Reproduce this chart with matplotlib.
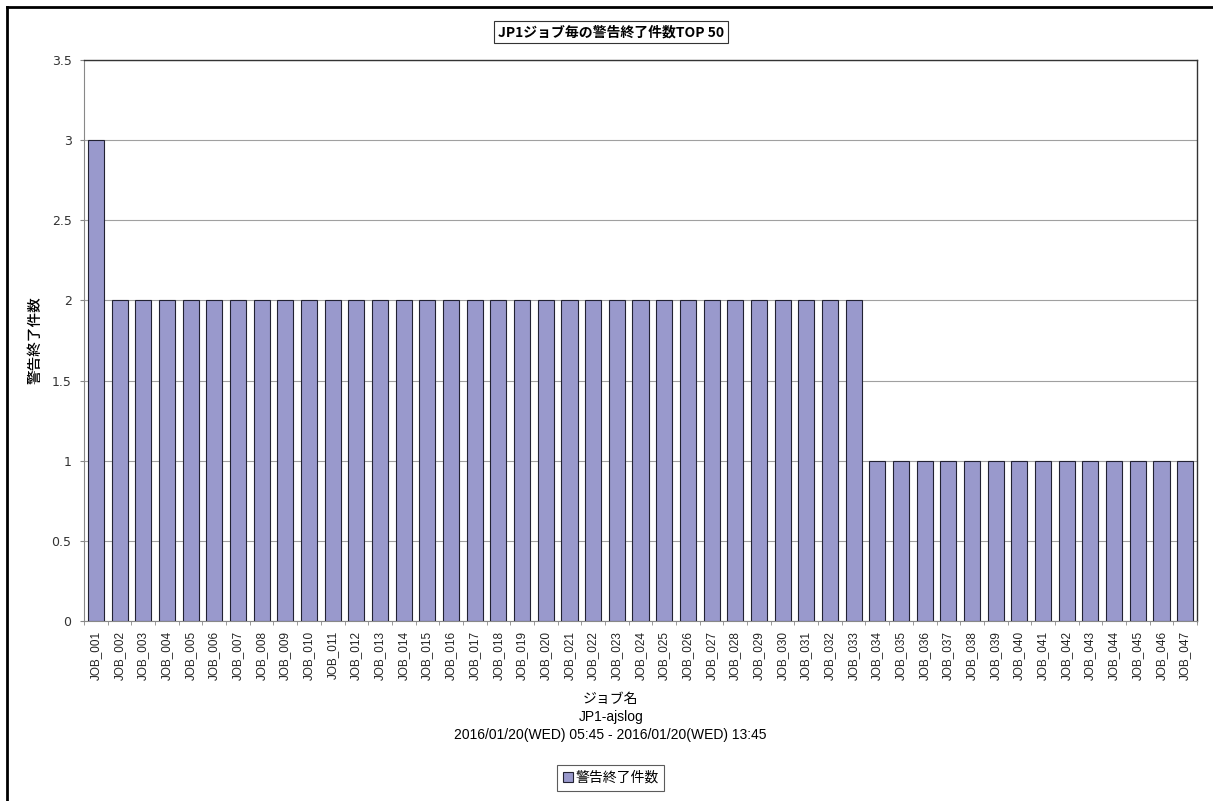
import matplotlib
matplotlib.use("Agg")
import matplotlib.pyplot as plt
import numpy as np
from matplotlib.lines import Line2D
from matplotlib.patches import Patch

plt.rcParams["font.family"] = ["DejaVu Sans", "Noto Sans CJK JP"]

jobs = ["JOB_%03d" % i for i in range(1, 48)]
counts = [3] + [2] * 32 + [1] * 14

title = "JP1ジョブ毎の警告終了件数TOP 50"
ylabel = "警告終了件数"
xlabel_lines = ["ジョブ名", "JP1-ajslog", "2016/01/20(WED) 05:45 - 2016/01/20(WED) 13:45"]
legend_label = "警告終了件数"
yticks = [0, 0.5, 1, 1.5, 2, 2.5, 3, 3.5]

bar_color = "#9999CC"
jp = ["Noto Sans CJK JP", "DejaVu Sans"]
lat = ["Liberation Sans", "Noto Sans CJK JP"]

fig = plt.figure(figsize=(12.13, 8.01), dpi=100)
ax = fig.add_axes([0.0693, 0.2247, 0.9175, 0.7003])

x = np.arange(len(jobs))
ax.bar(x, counts, width=0.68, color=bar_color, edgecolor="#222233", linewidth=0.8, zorder=3)

ax.set_xlim(-0.5, len(jobs) - 0.5)
ax.set_ylim(0, 3.5)
ax.set_yticks(yticks)
ax.set_yticklabels([("%g" % v) for v in yticks], fontsize=9, color="#333333")
ax.yaxis.grid(True, color="#A0A0A0", linewidth=0.8, zorder=0)

ax.set_xticks(x)
ax.set_xticklabels(jobs, rotation=90, fontsize=8.5, color="#222222", family=lat)
ax.tick_params(axis="x", length=0, pad=7)
ax.tick_params(axis="y", length=3, color="#888888", pad=6)
ax.set_xticks(np.arange(-0.5, len(jobs)), minor=True)
ax.tick_params(axis="x", which="minor", length=3, color="#888888")

for side in ["left", "bottom"]:
    ax.spines[side].set_color("#888888")
for side in ["top", "right"]:
    ax.spines[side].set_color("#333333")
    ax.spines[side].set_linewidth(1.0)

fig.text(36 / 1213, 1 - 340 / 801, ylabel, rotation=90, ha="center", va="center",
         family=jp, fontsize=10.5, fontweight="medium")

# x label block
ys = [699, 717, 735]
for line, yp in zip(xlabel_lines, ys):
    fig.text(0.5035, 1 - yp / 801, line, ha="center", va="center", fontsize=10, family=lat)

# title box
fig.text(0.5035, 1 - 32 / 801, title, ha="center", va="center", fontsize=10, fontweight="bold",
         family=jp, bbox=dict(boxstyle="square,pad=0.3", facecolor="white", edgecolor="#333333", linewidth=0.8))

# legend
handle = Patch(facecolor=bar_color, edgecolor="#222233", linewidth=0.8)
leg = fig.legend([handle], [legend_label], loc="center", bbox_to_anchor=(0.5035, 1 - 778 / 801),
                 frameon=True, fancybox=False, prop={"family": jp, "size": 10},
                 handlelength=0.7, handleheight=0.7, handletextpad=0.2, borderpad=0.4)
leg.get_frame().set_edgecolor("#333333")
leg.get_frame().set_linewidth(0.8)

# outer frame (left and top only)
fig.add_artist(Line2D([7 / 1213, 7 / 1213], [0, 1 - 7 / 801], color="black", linewidth=2, transform=fig.transFigure))
fig.add_artist(Line2D([7 / 1213, 1], [1 - 7 / 801, 1 - 7 / 801], color="black", linewidth=2, transform=fig.transFigure))

fig.savefig("out.png", dpi=100)
